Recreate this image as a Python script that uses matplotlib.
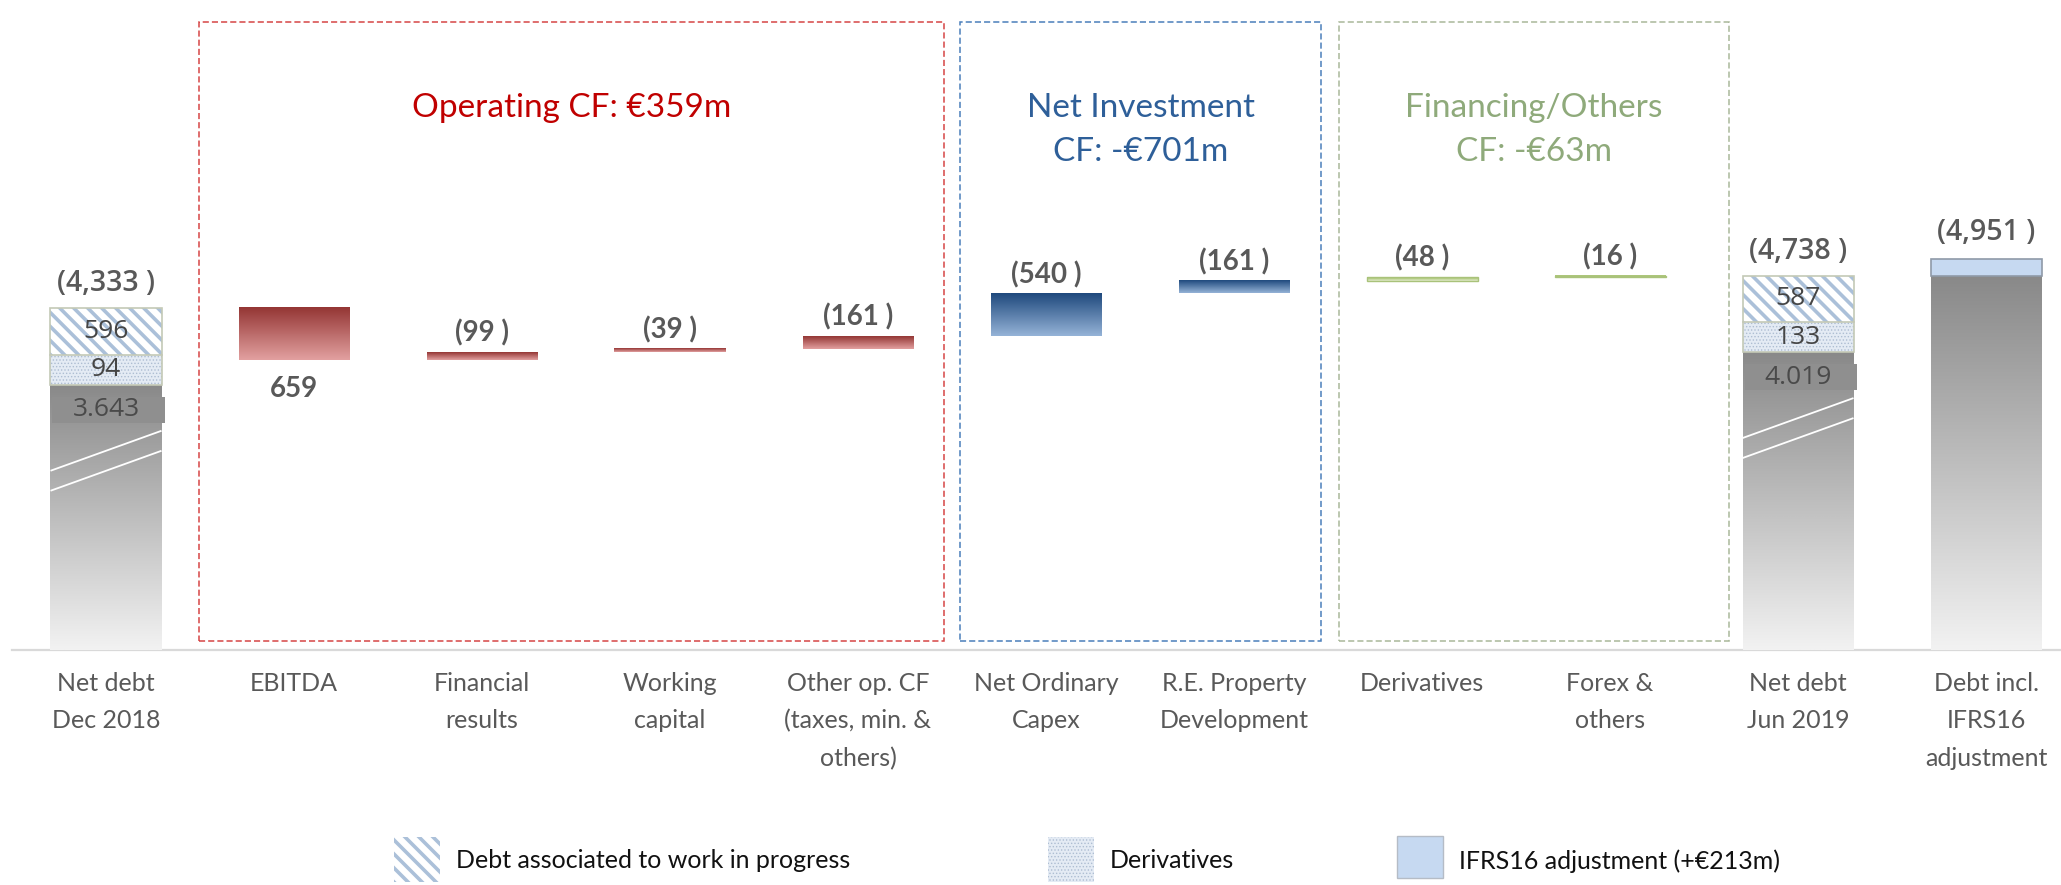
import numpy as np
import matplotlib.pyplot as plt
import matplotlib.transforms as mtransforms
from matplotlib.patches import Rectangle
from matplotlib.lines import Line2D
from matplotlib.colors import to_rgb

# ---- data (EUR m) ----
categories = ["Net debt\nDec 2018", "EBITDA", "Financial\nresults", "Working\ncapital",
              "Other op. CF\n(taxes, min. &\nothers)", "Net Ordinary\nCapex",
              "R.E. Property\nDevelopment", "Derivatives", "Forex &\nothers",
              "Net debt\nJun 2019", "Debt incl.\nIFRS16\nadjustment"]

start_total = 4333
start_wip = 596
start_deriv = 94
start_core = 3643

changes = [-659, 99, 39, 161, 540, 161, 48, 16]
change_groups = ["op", "op", "op", "op", "inv", "inv", "fin", "fin"]

end_total = 4738
end_wip = 587
end_deriv = 133
end_core = 4019

ifrs16_adj = 213
ifrs16_total = 4951

group_titles = {"op": "Operating CF: €359m",
                "inv": "Net Investment\nCF: -€701m",
                "fin": "Financing/Others\nCF: -€63m"}
legend_labels = ["Debt associated to work in progress", "Derivatives",
                 "IFRS16 adjustment (+€213m)"]

# ---- layout / style ----
W, H, DPI = 2061, 885, 100
BASE_PX = 650            # baseline, pixels from top
UNIT_PX = 0.079          # pixels per EUR m
X0_PX, STEP_PX = 106, 188
BAR_W = 111 / STEP_PX
PX = 1 / UNIT_PX         # EUR m per pixel
XPX = 1 / STEP_PX        # x units per pixel
MIN_SEG = 30 * PX        # derivatives band drawn at a readable height

TXT = '#595959'
GRAY_TOP, GRAY_BOT = '#898989', '#f2f2f2'
WIP_HATCH = '#abc0d9'
DERIV_FC, DERIV_HATCH = '#e4ebf4', '#aebdd2'
SEG_EDGE = '#c4c9b6'
IFRS_FC, IFRS_EDGE = '#c6d9f1', '#8f9aa8'
group_colors = {"op": ('#943634', '#e2a0a0'),
                "inv": ('#1f497d', '#95b3d7'),
                "fin": ('#9bbb59', '#e6eed5')}
box_colors = {"op": '#d64545', "inv": '#4a7ebb', "fin": '#a9b89a'}
title_colors = {"op": '#c00000', "inv": '#2e5f99', "fin": '#8faa7b'}
box_pad = {"op": (0.505, 0.457), "inv": (0.457, 0.463), "fin": (0.441, 0.633)}
OPEN = ['Open Sans', 'DejaVu Sans']

plt.rcParams['font.family'] = ['Lato', 'DejaVu Sans']

fig = plt.figure(figsize=(W / DPI, H / DPI), dpi=DPI)
ax = fig.add_axes([0, 1 - BASE_PX / H, 1, BASE_PX / H])
ax.axis('off')


def fy(px):
    """pixels from top -> figure fraction"""
    return 1 - px / H


def fx(px):
    return px / W


xdata_yfig = mtransforms.blended_transform_factory(ax.transData, fig.transFigure)


def thin_hatch(p, lw):
    try:
        p.set_hatch_linewidth(lw)
    except AttributeError:
        pass
    return p


def stripes(parent, rect, left, bottom, w, h, ux, uy, transform, spacing=14, lw=2.6, z=3):
    """diagonal '\\' stripes clipped to rect; ux/uy = units per pixel"""
    wpx, hpx = w / ux, h / uy
    for s in np.arange(-hpx, wpx + spacing, spacing):
        ln = Line2D([left + s * ux, left + (s + hpx) * ux], [bottom + h, bottom],
                    color=WIP_HATCH, lw=lw, transform=transform, zorder=z)
        parent.add_artist(ln)
        ln.set_clip_path(rect.get_path(), rect.get_transform())


def grad_bar(x, bottom, height, c_top, c_bot, z=2):
    t = np.linspace(0, 1, 128)[:, None]
    top, bot = np.array(to_rgb(c_top)), np.array(to_rgb(c_bot))
    img = (bot + (top - bot) * t)[:, None, :]
    ax.imshow(img, extent=[x - BAR_W / 2, x + BAR_W / 2, bottom, bottom + height],
              origin='lower', aspect='auto', interpolation='bilinear', zorder=z)


def total_bar(i, total, wip, deriv, core):
    d_h = max(deriv, MIN_SEG)
    g = total - wip - d_h
    left = i - BAR_W / 2
    grad_bar(i, 0, g, GRAY_TOP, GRAY_BOT)
    p = Rectangle((left, g), BAR_W, d_h, facecolor=DERIV_FC, edgecolor=DERIV_HATCH,
                  hatch='.....', lw=0, zorder=3)
    ax.add_patch(thin_hatch(p, 0.6))
    r = Rectangle((left, g + d_h), BAR_W, wip, facecolor='white', lw=0, zorder=3)
    ax.add_patch(r)
    stripes(ax, r, left, g + d_h, BAR_W, wip, XPX, PX, ax.transData)
    ax.add_patch(Rectangle((left, g), BAR_W, d_h + wip, fill=False, edgecolor=SEG_EDGE,
                           lw=1.2, zorder=4))
    ax.plot([left, left + BAR_W], [g + d_h] * 2, color=SEG_EDGE, lw=1.2, zorder=4)
    ax.text(i, g + d_h + wip / 2, f"{wip}", ha='center', va='center', fontsize=19,
            family=OPEN, color='#454545', zorder=5)
    ax.text(i, g + d_h / 2, f"{deriv}", ha='center', va='center', fontsize=19,
            family=OPEN, color='#454545', zorder=5)
    # core debt label box
    box_top = g - 12 * PX
    box_bot = box_top - 26 * PX
    ax.add_patch(Rectangle((left + 2 * XPX, box_bot), BAR_W + 1 * XPX, box_top - box_bot,
                           facecolor='#8f8f8f', lw=0, zorder=3))
    ax.text(i, (box_top + box_bot) / 2, f"{core:,}".replace(",", "."), ha='center',
            va='center', fontsize=19, family=OPEN, color='#4a4a4a', zorder=5)
    # axis-break marks
    yr = box_bot - 8 * PX
    for off in (0, 20 * PX):
        ax.plot([left, left + BAR_W], [yr - 40 * PX - off, yr - off], color='white',
                lw=1.3, zorder=4, solid_capstyle='butt')
    ax.text(i, total + 24 * PX, f"({total:,} )", ha='center', va='center', fontsize=20.5,
            fontweight='semibold', family=OPEN, color=TXT)


# baseline
ax.axhline(0, xmin=12 / W, xmax=1, color='#d9d9d9', lw=1.6, zorder=1, clip_on=False)

# opening net debt
total_bar(0, start_total, start_wip, start_deriv, start_core)

# waterfall steps
level = start_total
for k, (chg, grp) in enumerate(zip(changes, change_groups)):
    i = k + 1
    new = level + chg
    lo, hi = min(level, new), max(level, new)
    c_top, c_bot = group_colors[grp]
    grad_bar(i, lo, hi - lo, c_top, c_bot)
    if grp == "fin":
        ax.add_patch(Rectangle((i - BAR_W / 2, lo), BAR_W, hi - lo, fill=False,
                               edgecolor='#a9c27a', lw=1.0, zorder=3))
    if chg < 0:
        ax.text(i, lo - 29 * PX, f"{-chg}", ha='center', va='center', fontsize=20,
                fontweight='bold', color=TXT)
    else:
        ax.text(i, hi + 19 * PX, f"({chg} )", ha='center', va='center', fontsize=20,
                fontweight='bold', color=TXT)
    level = new

# closing net debt
total_bar(9, end_total, end_wip, end_deriv, end_core)

# debt incl. IFRS16
grad_bar(10, 0, end_total, GRAY_TOP, GRAY_BOT)
ax.add_patch(Rectangle((10 - BAR_W / 2, end_total), BAR_W, ifrs16_adj, facecolor=IFRS_FC,
                       edgecolor=IFRS_EDGE, lw=1.2, zorder=3))
ax.text(10, ifrs16_total + 26 * PX, f"({ifrs16_total:,} )", ha='center', va='center',
        fontsize=20.5, fontweight='semibold', family=OPEN, color=TXT)

# category labels
for i, cat in enumerate(categories):
    ax.text(i, fy(672), cat, transform=xdata_yfig, ha='center', va='top', fontsize=18,
            color=TXT, linespacing=1.75)

# group boxes and titles
for grp in ["op", "inv", "fin"]:
    idx = [k + 1 for k, g in enumerate(change_groups) if g == grp]
    left = idx[0] - box_pad[grp][0]
    right = idx[-1] + box_pad[grp][1]
    ax.add_patch(Rectangle((left, fy(641)), right - left, fy(22) - fy(641),
                           transform=xdata_yfig, fill=False, edgecolor=box_colors[grp],
                           lw=1.1, ls=(0, (4, 2)), clip_on=False, zorder=1))
    ax.text((left + right) / 2, fy(93), group_titles[grp], transform=xdata_yfig,
            ha='center', va='top', fontsize=24, color=title_colors[grp], linespacing=1.6)

ax.set_xlim(-X0_PX / STEP_PX, (W - X0_PX) / STEP_PX)
ax.set_ylim(0, BASE_PX * PX)

# legend
leg_x = [394, 1048, 1397]
sw_w, sw_top, sw_bot = 46, 837, 882
r = Rectangle((fx(leg_x[0]), fy(sw_bot)), fx(sw_w), fy(sw_top) - fy(sw_bot),
              transform=fig.transFigure, facecolor='white', lw=0)
fig.add_artist(r)
stripes(fig, r, fx(leg_x[0]), fy(sw_bot), fx(sw_w), fy(sw_top) - fy(sw_bot),
        1 / W, 1 / H, fig.transFigure)
p = Rectangle((fx(leg_x[1]), fy(sw_bot)), fx(sw_w), fy(sw_top) - fy(sw_bot),
              transform=fig.transFigure, facecolor=DERIV_FC, edgecolor=DERIV_HATCH,
              hatch='.....', lw=0)
fig.add_artist(thin_hatch(p, 0.6))
fig.add_artist(Rectangle((fx(leg_x[2]), fy(878)), fx(sw_w), fy(836) - fy(878),
                         transform=fig.transFigure, facecolor=IFRS_FC, edgecolor='#b5bcc6',
                         lw=1.0))
for lx, lab in zip(leg_x, legend_labels):
    fig.text(fx(lx + sw_w + 16), fy(861), lab, ha='left', va='center', fontsize=18,
             color='#111111')

fig.savefig("out.png", dpi=DPI)
